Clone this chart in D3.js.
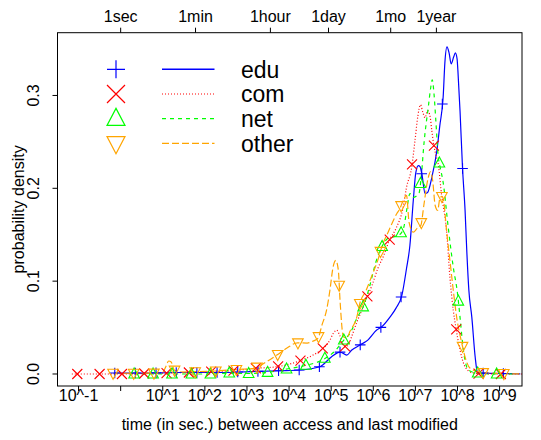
<!DOCTYPE html>
<html>
<head>
<meta charset="utf-8">
<script src="https://cdn.jsdelivr.net/npm/d3@7"></script>
<style>
  html, body { margin: 0; padding: 0; background: #fff; }
  svg { display: block; }
  text { font-family: "Liberation Sans", Arial, Helvetica, sans-serif; fill: #000; }
</style>
</head>
<body>
<svg id="chart" width="541" height="440"></svg>
<script>
// Density of log10(time between access and last modification), per domain class.

const seriesNames = ["edu", "com", "net", "other"];

// edu
const eduLogTime = [-0.14, 0.46, 1.41, 2.36, 3.07, 3.78, 4.26, 4.73, 5.01, 5.21, 5.37, 5.49, 5.68, 5.87, 6.08, 6.20, 6.40, 6.54, 6.68, 6.79, 6.87, 6.95, 7.01, 7.07, 7.11, 7.16, 7.23, 7.29, 7.39, 7.51, 7.58, 7.66, 7.70, 7.75, 7.80, 7.85, 7.91, 7.95, 7.99, 8.01, 8.06, 8.12, 8.18, 8.22, 8.27, 8.34, 8.42, 8.47, 8.53, 9.01, 9.49];
const eduDensity = [0.001, 0.001, 0.0016, 0.0016, 0.0025, 0.0035, 0.0043, 0.0078, 0.0186, 0.0236, 0.0204, 0.0258, 0.0311, 0.0365, 0.0473, 0.0508, 0.0615, 0.0709, 0.0849, 0.1139, 0.1386, 0.1869, 0.2170, 0.2245, 0.2234, 0.2137, 0.1944, 0.1955, 0.2116, 0.2406, 0.2675, 0.2986, 0.3351, 0.3523, 0.3459, 0.3340, 0.3416, 0.3459, 0.3394, 0.3265, 0.2836, 0.2213, 0.1762, 0.1332, 0.0902, 0.0612, 0.0183, 0.0025, 0.001, 0.0005, 0.0002];
const eduMarkLogTime = [-0.14, 0.35, 0.84, 1.32, 1.81, 2.29, 2.78, 3.26, 3.75, 4.24, 4.72, 5.21, 5.69, 6.18, 6.66, 7.15, 7.64, 8.12, 8.61, 9.09];

// com
const comLogTime = [-1.16, -1.03, -0.49, 0.03, 0.55, 1.08, 1.62, 2.15, 2.64, 3.19, 3.71, 4.26, 4.57, 4.78, 4.97, 5.05, 5.13, 5.21, 5.31, 5.40, 5.49, 5.61, 5.68, 5.84, 5.97, 6.11, 6.25, 6.38, 6.54, 6.71, 6.79, 6.91, 6.99, 7.06, 7.12, 7.18, 7.23, 7.29, 7.35, 7.39, 7.44, 7.49, 7.54, 7.63, 7.66, 7.74, 7.82, 7.90, 7.96, 8.06, 8.18, 8.34, 8.49, 9.01, 9.53];
const comDensity = [0, 0, 0, 0, 0.0005, 0.001, 0.0016, 0.0025, 0.0035, 0.0061, 0.0078, 0.0143, 0.0204, 0.0265, 0.0365, 0.0437, 0.0473, 0.0408, 0.0293, 0.0311, 0.0408, 0.0559, 0.0634, 0.0813, 0.0956, 0.1139, 0.1278, 0.1439, 0.1568, 0.1797, 0.2012, 0.2220, 0.2513, 0.2782, 0.2900, 0.2814, 0.2760, 0.2836, 0.2771, 0.2621, 0.2460, 0.2352, 0.2266, 0.1901, 0.1815, 0.1547, 0.1042, 0.0687, 0.0505, 0.0258, 0.0078, 0.0014, 0.0005, 0, 0];
const comMarkLogTime = [-1.03, -0.50, 0.03, 0.56, 1.09, 1.62, 2.15, 2.68, 3.21, 3.74, 4.27, 4.80, 5.33, 5.86, 6.39, 6.92, 7.44, 7.97, 8.50, 9.03];

// net
const netLogTime = [0.32, 1.22, 2.12, 2.60, 3.02, 3.48, 3.95, 4.38, 4.81, 5.09, 5.30, 5.45, 5.61, 5.76, 5.92, 6.06, 6.20, 6.35, 6.52, 6.65, 6.73, 6.80, 6.87, 6.94, 7.04, 7.09, 7.13, 7.21, 7.31, 7.36, 7.40, 7.44, 7.49, 7.54, 7.58, 7.66, 7.78, 7.90, 8.00, 8.06, 8.14, 8.26, 8.46, 8.93, 9.37];
const netDensity = [0, 0, 0, 0.001, 0.0005, 0.0016, 0.0054, 0.0091, 0.0156, 0.0247, 0.0365, 0.0440, 0.0601, 0.0723, 0.0956, 0.1203, 0.1367, 0.1461, 0.1482, 0.1511, 0.1590, 0.1783, 0.1944, 0.1901, 0.1923, 0.1952, 0.2084, 0.2513, 0.2889, 0.3072, 0.3169, 0.3029, 0.2696, 0.2352, 0.2245, 0.2062, 0.1579, 0.1149, 0.0870, 0.0612, 0.0258, 0.0043, 0.001, 0, 0];
const netMarkLogTime = [0.32, 0.77, 1.22, 1.68, 2.13, 2.58, 3.04, 3.49, 3.94, 4.40, 4.85, 5.30, 5.76, 6.21, 6.66, 7.12, 7.57, 8.02, 8.48, 8.93];

// other
const otherLogTime = [-0.18, 0.32, 0.79, 1.00, 1.08, 1.14, 1.20, 1.27, 1.41, 1.77, 2.24, 2.72, 3.19, 3.45, 3.71, 3.95, 4.20, 4.43, 4.57, 4.69, 4.78, 4.89, 4.97, 5.04, 5.11, 5.17, 5.21, 5.29, 5.37, 5.45, 5.61, 5.68, 5.83, 5.97, 6.12, 6.20, 6.35, 6.56, 6.63, 6.71, 6.79, 6.85, 6.95, 7.04, 7.13, 7.20, 7.30, 7.36, 7.41, 7.47, 7.53, 7.58, 7.63, 7.67, 7.74, 7.82, 7.90, 7.98, 8.10, 8.18, 8.30, 8.58, 9.08, 9.49];
const otherDensity = [0.0008, 0.0008, 0.001, 0.002, 0.0086, 0.014, 0.0129, 0.0043, 0.0021, 0.0025, 0.0032, 0.0048, 0.0061, 0.0129, 0.0204, 0.0279, 0.0336, 0.0333, 0.0354, 0.0387, 0.0526, 0.0687, 0.0902, 0.1139, 0.1224, 0.1117, 0.0795, 0.0401, 0.0387, 0.0462, 0.0615, 0.0759, 0.0902, 0.1063, 0.1243, 0.1367, 0.1525, 0.1729, 0.1780, 0.1869, 0.1923, 0.1633, 0.1528, 0.1568, 0.1600, 0.1815, 0.2105, 0.2180, 0.2084, 0.1815, 0.1762, 0.1890, 0.1912, 0.1869, 0.1547, 0.1224, 0.0902, 0.0612, 0.0336, 0.0183, 0.0061, 0.0016, 0.0005, 0];
const otherMarkLogTime = [-0.18, 0.31, 0.79, 1.28, 1.77, 2.26, 2.75, 3.24, 3.73, 4.21, 4.70, 5.19, 5.68, 6.17, 6.66, 7.14, 7.63, 8.12, 8.61, 9.10];

// axes
const bottomTickExponents = [-1, 0, 1, 2, 3, 4, 5, 6, 7, 8, 9];
const bottomTickLabels = ["10^-1", "", "10^1", "10^2", "10^3", "10^4", "10^5", "10^6", "10^7", "10^8", "10^9"];
const topTickSeconds = [1, 60, 3600, 86400, 2592000, 31536000];
const topTickLabels = ["1sec", "1min", "1hour", "1day", "1mo", "1year"];
const yTickValues = [0, 0.1, 0.2, 0.3];
const yTickLabels = ["0.0", "0.1", "0.2", "0.3"];

const series = [
  { name: "edu",   t: eduLogTime,   d: eduDensity,   marks: eduMarkLogTime,   color: "#0000FF", dash: null,  symbol: "plus" },
  { name: "com",   t: comLogTime,   d: comDensity,   marks: comMarkLogTime,   color: "#FF0000", dash: "1,2", symbol: "cross" },
  { name: "net",   t: netLogTime,   d: netDensity,   marks: netMarkLogTime,   color: "#00FF00", dash: "4,4", symbol: "up" },
  { name: "other", t: otherLogTime, d: otherDensity, marks: otherMarkLogTime, color: "#FFA500", dash: "7,3", symbol: "down" }
];

const svg = d3.select("#chart");
const plot = { left: 57.5, right: 522, top: 32.7, bottom: 386 };
const fontSize = 16;

const x = d3.scaleLinear().domain([-1.5, 9.532]).range([plot.left, plot.right]);
const y = d3.scaleLinear().domain([-0.01294, 0.3676]).range([plot.bottom, plot.top]);

svg.append("clipPath").attr("id", "plotclip")
  .append("rect")
  .attr("x", plot.left).attr("y", plot.top)
  .attr("width", plot.right - plot.left).attr("height", plot.bottom - plot.top);

// density value on a curve at a given log-time
function densityAt(s, lt) {
  const i = d3.bisectLeft(s.t, lt);
  if (i <= 0) return s.d[0];
  if (i >= s.t.length) return s.d[s.d.length - 1];
  const t0 = s.t[i - 1], t1 = s.t[i];
  const f = (lt - t0) / (t1 - t0);
  return s.d[i - 1] + f * (s.d[i] - s.d[i - 1]);
}

function symbolPath(kind, r) {
  switch (kind) {
    case "plus":
      return `M${-r},0H${r}M0,${-r}V${r}`;
    case "cross":
      return `M${-r},${-r}L${r},${r}M${-r},${r}L${r},${-r}`;
    case "up":
      return `M0,${-r * 1.15}L${r},${r * 0.75}L${-r},${r * 0.75}Z`;
    case "down":
      return `M0,${r * 1.15}L${r},${-r * 0.75}L${-r},${-r * 0.75}Z`;
  }
}

const line = d3.line()
  .x((p) => x(p[0]))
  .y((p) => y(p[1]))
  .curve(d3.curveMonotoneX);

const layer = svg.append("g").attr("clip-path", "url(#plotclip)");

series.forEach((s) => {
  const pts = s.t.map((t, i) => [t, s.d[i]]);
  layer.append("path")
    .attr("d", line(pts))
    .attr("fill", "none")
    .attr("stroke", s.color)
    .attr("stroke-width", 1.2)
    .attr("stroke-dasharray", s.dash);
});

series.forEach((s) => {
  layer.append("g").selectAll("path")
    .data(s.marks)
    .join("path")
    .attr("transform", (lt) => `translate(${x(lt)},${y(densityAt(s, lt))})`)
    .attr("d", symbolPath(s.symbol, s.symbol === "cross" ? 5 : 5.3))
    .attr("fill", "none")
    .attr("stroke", s.color)
    .attr("stroke-width", 1.1);
});

// frame
svg.append("rect")
  .attr("x", plot.left).attr("y", plot.top)
  .attr("width", plot.right - plot.left).attr("height", plot.bottom - plot.top)
  .attr("fill", "none").attr("stroke", "#000").attr("stroke-width", 1);

// bottom axis
const bottomAxis = svg.append("g");
bottomTickExponents.forEach((e, i) => {
  bottomAxis.append("line")
    .attr("x1", x(e)).attr("x2", x(e))
    .attr("y1", plot.bottom).attr("y2", plot.bottom + 5)
    .attr("stroke", "#000");
  bottomAxis.append("text")
    .attr("x", x(e)).attr("y", 401)
    .attr("text-anchor", "middle")
    .attr("font-size", fontSize)
    .text(bottomTickLabels[i]);
});
svg.append("text")
  .attr("x", (plot.left + plot.right) / 2).attr("y", 430)
  .attr("text-anchor", "middle").attr("font-size", fontSize)
  .text("time (in sec.) between access and last modified");

// top axis
const topAxis = svg.append("g");
topTickSeconds.forEach((sec, i) => {
  const px = x(Math.log10(sec));
  topAxis.append("line")
    .attr("x1", px).attr("x2", px)
    .attr("y1", plot.top).attr("y2", plot.top - 5)
    .attr("stroke", "#000");
  topAxis.append("text")
    .attr("x", px).attr("y", 21.5)
    .attr("text-anchor", "middle")
    .attr("font-size", fontSize)
    .text(topTickLabels[i]);
});

// left axis
const leftAxis = svg.append("g");
yTickValues.forEach((v, i) => {
  leftAxis.append("line")
    .attr("x1", plot.left).attr("x2", plot.left - 5)
    .attr("y1", y(v)).attr("y2", y(v))
    .attr("stroke", "#000");
  leftAxis.append("text")
    .attr("transform", `translate(38.8,${y(v)}) rotate(-90)`)
    .attr("text-anchor", "middle")
    .attr("font-size", fontSize)
    .text(yTickLabels[i]);
});
svg.append("text")
  .attr("transform", `translate(23.5,${(plot.top + plot.bottom) / 2}) rotate(-90)`)
  .attr("text-anchor", "middle").attr("font-size", fontSize)
  .text("probability density");

// legend
const legend = svg.append("g");
const legendRowY = (i) => 69.3 + i * 24.7;
series.forEach((s, i) => {
  const ry = legendRowY(i);
  legend.append("path")
    .attr("transform", `translate(116,${ry})`)
    .attr("d", symbolPath(s.symbol, 9))
    .attr("fill", "none")
    .attr("stroke", s.color)
    .attr("stroke-width", 1.2);
  legend.append("line")
    .attr("x1", 162).attr("x2", 214.5)
    .attr("y1", ry).attr("y2", ry)
    .attr("stroke", s.color)
    .attr("stroke-width", s.dash ? 1.2 : 1.6)
    .attr("stroke-dasharray", s.dash);
  legend.append("text")
    .attr("x", 241).attr("y", ry + 8.4)
    .attr("font-size", 23)
    .text(s.name);
});
</script>
</body>
</html>
